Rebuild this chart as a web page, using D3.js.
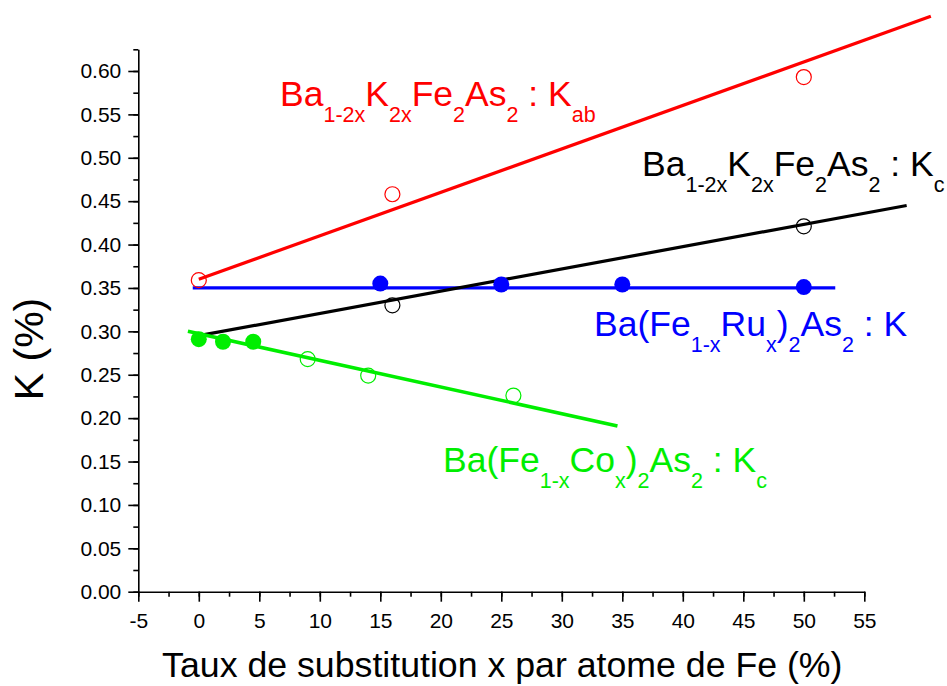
<!DOCTYPE html>
<html>
<head>
<meta charset="utf-8">
<script src="https://cdn.jsdelivr.net/npm/d3@7"></script>
<style>
  html, body { margin: 0; padding: 0; background: #fff; }
  svg { display: block; font-family: "Liberation Sans", Arial, sans-serif; }
</style>
</head>
<body>
<svg id="chart" width="947" height="686"></svg>
<script>
// ---- data ----
const xTicks = [-5, 0, 5, 10, 15, 20, 25, 30, 35, 40, 45, 50, 55];
const yTicks = [0.00, 0.05, 0.10, 0.15, 0.20, 0.25, 0.30, 0.35, 0.40, 0.45, 0.50, 0.55, 0.60];

// Ba1-2xK2xFe2As2 : Kab (red, open circles)
const redX = [0, 16, 50];
const redY = [0.359, 0.458, 0.593];
const redFitX = [0, 60.5];
const redFitY = [0.360, 0.663];

// Ba1-2xK2xFe2As2 : Kc (black, open circles)
const blackX = [16, 50];
const blackY = [0.330, 0.421];
const blackFitX = [0, 58.5];
const blackFitY = [0.295, 0.445];

// Ba(Fe1-xRux)2As2 : K (blue, filled circles)
const blueX = [15, 25, 35, 50];
const blueY = [0.355, 0.354, 0.354, 0.351];
const blueFitX = [-0.5, 52.6];
const blueFitY = [0.350, 0.350];

// Ba(Fe1-xCox)2As2 : Kc (green, filled + open circles)
const greenFilledX = [0, 2, 4.5];
const greenFilledY = [0.291, 0.288, 0.288];
const greenOpenX = [9, 14, 26];
const greenOpenY = [0.268, 0.249, 0.226];
const greenFitX = [-0.9, 34.6];
const greenFitY = [0.300, 0.191];

// ---- layout ----
const FONT = "'Liberation Sans', Arial, sans-serif";
const svg = d3.select("#chart");
const x = d3.scaleLinear().domain([-5, 55]).range([138.3, 864.3]);
const y = d3.scaleLinear().domain([0, 0.625]).range([591.7, 49.3]);

const RED = "#ff0000", BLACK = "#000000", BLUE = "#0000ff", GREEN = "#00ee00";

// axes
const xMinor = d3.range(-5, 55.01, 2.5);
const yMinor = d3.range(0, 0.6251, 0.025);

const gx = svg.append("g").attr("transform", `translate(0,${y(0)})`);
gx.call(d3.axisBottom(x).tickValues(xMinor).tickSize(5).tickFormat("").tickSizeOuter(0));
gx.call(g => g.select(".domain").remove());
const gx2 = svg.append("g").attr("transform", `translate(0,${y(0)})`);
gx2.call(d3.axisBottom(x).tickValues(xTicks).tickSize(10).tickPadding(11).tickSizeOuter(0).tickFormat(d => String(d)));
gx2.selectAll("text").attr("font-size", 21).attr("fill", "#000").attr("font-family", FONT);
gx2.select(".domain").attr("stroke", "#000").attr("stroke-width", 1.6);

const gy = svg.append("g").attr("transform", `translate(${x(-5)},0)`);
gy.call(d3.axisLeft(y).tickValues(yMinor).tickSize(5).tickFormat("").tickSizeOuter(0));
gy.call(g => g.select(".domain").remove());
const gy2 = svg.append("g").attr("transform", `translate(${x(-5)},0)`);
gy2.call(d3.axisLeft(y).tickValues(yTicks).tickSize(10).tickPadding(7).tickSizeOuter(0).tickFormat(d3.format(".2f")));
gy2.selectAll("text").attr("font-size", 21).attr("fill", "#000").attr("font-family", FONT);
gy2.select(".domain").attr("stroke", "#000").attr("stroke-width", 1.6);
svg.selectAll("g.tick line").attr("stroke", "#000").attr("stroke-width", 1.6);

// axis titles
svg.append("text")
  .attr("x", (x(-5) + x(55)) / 2 + 1).attr("y", 677)
  .attr("text-anchor", "middle").attr("font-size", 35.7).attr("fill", "#000")
  .text("Taux de substitution x par atome de Fe (%)");
svg.append("text")
  .attr("transform", `translate(43,349) rotate(-90)`)
  .attr("text-anchor", "middle").attr("font-size", 41).attr("fill", "#000")
  .text("K (%)");

// fit lines
const line = d3.line().x(d => x(d[0])).y(d => y(d[1]));
function fit(xs, ys, color, w) {
  svg.append("path").datum(xs.map((v, i) => [v, ys[i]]))
    .attr("d", line).attr("fill", "none").attr("stroke", color).attr("stroke-width", w);
}
fit(redFitX, redFitY, RED, 3.2);
fit(blueFitX, blueFitY, BLUE, 3.2);
fit(blackFitX, blackFitY, BLACK, 3.2);
fit(greenFitX, greenFitY, GREEN, 3.6);

// points
function pts(xs, ys, color, filled) {
  svg.append("g").selectAll("circle").data(xs.map((v, i) => [v, ys[i]])).join("circle")
    .attr("cx", d => x(d[0])).attr("cy", d => y(d[1])).attr("r", filled ? 8 : 7.5)
    .attr("fill", filled ? color : "none")
    .attr("stroke", color).attr("stroke-width", filled ? 0 : 1.2);
}
pts(redX, redY, RED, false);
pts(blackX, blackY, BLACK, false);
pts(blueX, blueY, BLUE, true);
pts(greenFilledX, greenFilledY, GREEN, true);
pts(greenOpenX, greenOpenY, GREEN, false);

// labels with sub-scripts: parts [text, isSub]
function label(xp, yp, parts, color) {
  const t = svg.append("text").attr("x", xp).attr("y", yp).attr("fill", color).attr("font-size", 35.5);
  let sub = false;
  parts.forEach(([s, isSub]) => {
    const ts = t.append("tspan").text(s);
    if (isSub) ts.attr("font-size", 21.5);
    if (isSub !== sub) ts.attr("dy", isSub ? 16 : -16);
    sub = isSub;
  });
}
label(280, 105.7, [["Ba", false], ["1-2x", true], ["K", false], ["2x", true], ["Fe", false], ["2", true], ["As", false], ["2", true], [" : K", false], ["ab", true]], RED);
label(642, 175.7, [["Ba", false], ["1-2x", true], ["K", false], ["2x", true], ["Fe", false], ["2", true], ["As", false], ["2", true], [" : K", false], ["c", true]], BLACK);
label(594, 336, [["Ba(Fe", false], ["1-x", true], ["Ru", false], ["x", true], [")", false], ["2", true], ["As", false], ["2", true], [" : K", false]], BLUE);
label(443, 471.7, [["Ba(Fe", false], ["1-x", true], ["Co", false], ["x", true], [")", false], ["2", true], ["As", false], ["2", true], [" : K", false], ["c", true]], GREEN);
</script>
</body>
</html>
